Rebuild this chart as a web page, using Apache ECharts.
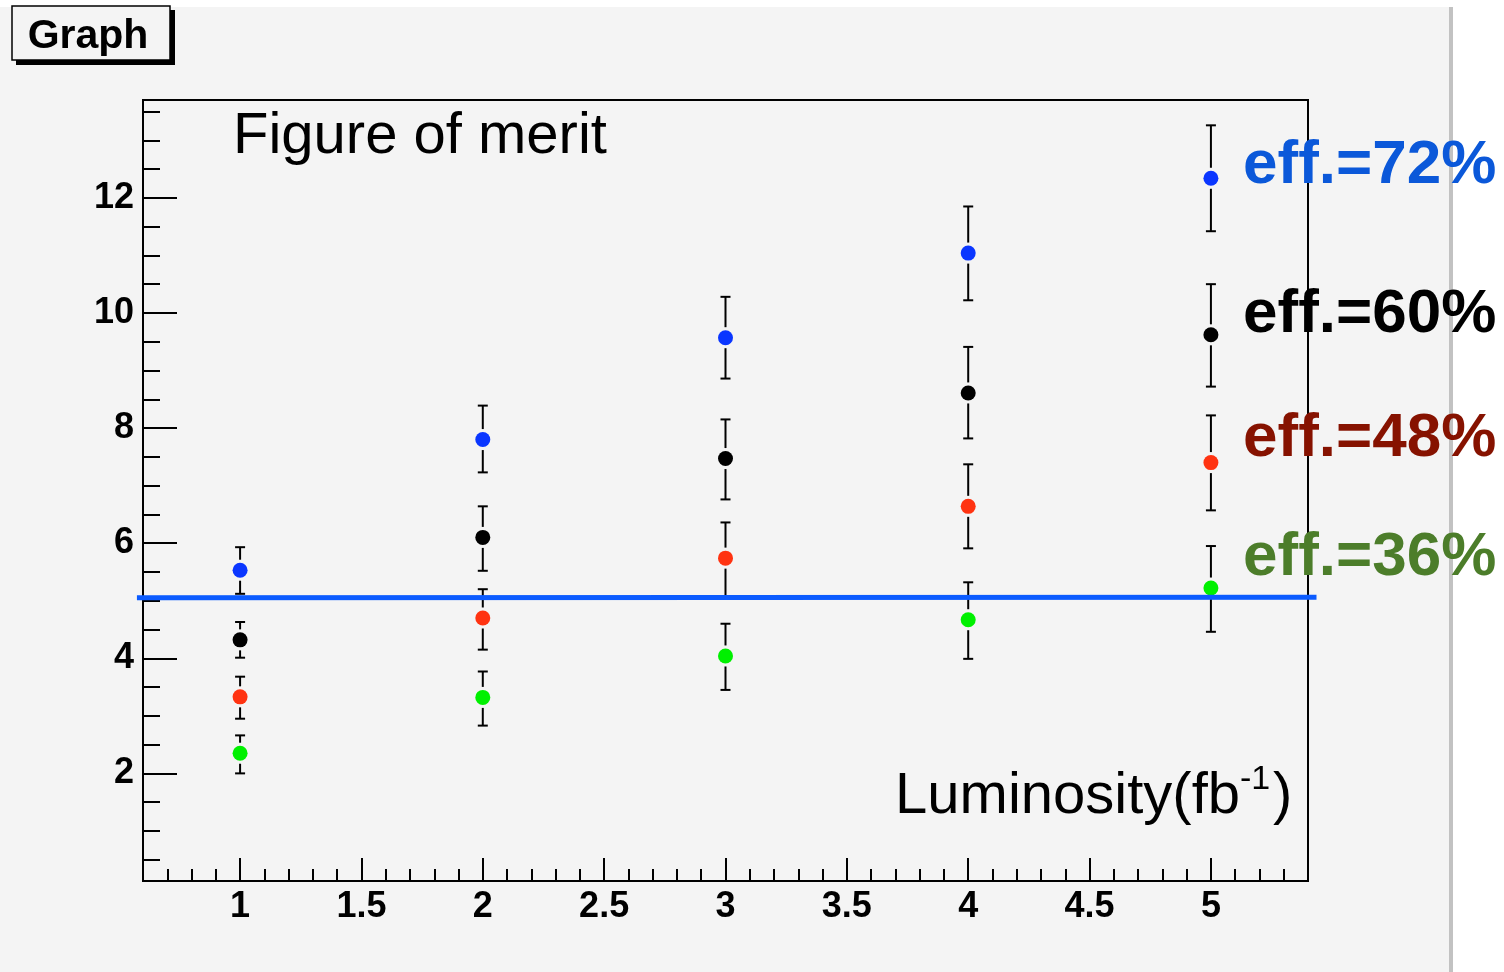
<!DOCTYPE html>
<html>
<head>
<meta charset="utf-8">
<script src="https://cdn.jsdelivr.net/npm/echarts@6/dist/echarts.min.js"></script>
<style>
html,body{margin:0;padding:0;background:#fff;}
#graph1{width:1504px;height:972px;}
</style>
</head>
<body>
<div id="graph1"></div>
<script>
// luminosity points (fb^-1)
var lumi=[1,2,3,4,5];

// figure of merit + error bar ends, one set per efficiency
var fom72=[5.53,7.80,9.57,11.04,12.34];
var lo72=[5.12,7.23,8.86,10.22,11.42];
var hi72=[5.93,8.39,10.28,11.85,13.26];

var fom60=[4.32,6.10,7.47,8.61,9.62];
var lo60=[4.01,5.52,6.76,7.82,8.72];
var hi60=[4.63,6.64,8.15,9.41,10.50];

var fom48=[3.33,4.70,5.74,6.64,7.40];
var lo48=[2.95,4.15,5.08,5.91,6.57];
var hi48=[3.68,5.20,6.36,7.37,8.22];

var fom36=[2.35,3.32,4.04,4.67,5.22];
var lo36=[2.00,2.83,3.45,3.99,4.46];
var hi36=[2.66,3.77,4.60,5.32,5.95];

// horizontal blue line
var cutX=[0.575,5.435];
var cutY=[5.05,5.06];

// ticks
var xMajor=[1,1.5,2,2.5,3,3.5,4,4.5,5];
var yMajor=[2,4,6,8,10,12];
var xMinor=[];
for(var i=7;i<=53;i++){ if(i%5!==0) xMinor.push(i/10); }
var yMinor=[];
for(var j=1;j<=27;j++){ if(j%4!==0) yMinor.push(j/2); }

var main=document.getElementById("graph1");
var myChart=echarts.init(main);

function pts(ys,los,his){
  var out=[];
  for(var k=0;k<lumi.length;k++) out.push([lumi[k],ys[k],los[k],his[k]]);
  return out;
}

function errRender(params,api){
  var x=api.value(0),y=api.value(1),lo=api.value(2),hi=api.value(3);
  var p=api.coord([x,y]),pl=api.coord([x,lo]),ph=api.coord([x,hi]);
  var gap=10.5,cap=5;
  var st={stroke:'#000',lineWidth:2};
  var ch=[];
  if(ph[1]<p[1]-gap) ch.push({type:'line',shape:{x1:p[0],y1:ph[1],x2:p[0],y2:p[1]-gap},style:st});
  if(pl[1]>p[1]+gap) ch.push({type:'line',shape:{x1:p[0],y1:p[1]+gap,x2:p[0],y2:pl[1]},style:st});
  ch.push({type:'line',shape:{x1:p[0]-cap,y1:ph[1],x2:p[0]+cap,y2:ph[1]},style:st});
  ch.push({type:'line',shape:{x1:p[0]-cap,y1:pl[1],x2:p[0]+cap,y2:pl[1]},style:st});
  return {type:'group',children:ch};
}

// the cut line, drawn as one segment between its two data points
function cutRender(params,api){
  if(params.dataIndex!==0) return;
  var a=api.coord([cutX[0],cutY[0]]),b=api.coord([cutX[1],cutY[1]]);
  return {type:'line',shape:{x1:a[0],y1:a[1],x2:b[0],y2:b[1]},
    style:{stroke:'#0b5bff',lineWidth:5,lineCap:'butt'}};
}

var sets=[
  {d:pts(fom72,lo72,hi72),c:'#0a36ff'},
  {d:pts(fom60,lo60,hi60),c:'#000000'},
  {d:pts(fom48,lo48,hi48),c:'#ff3311'},
  {d:pts(fom36,lo36,hi36),c:'#00f000'}
];

var series=[];
sets.forEach(function(s){
  series.push({type:'custom',renderItem:errRender,data:s.d,z:2,silent:true,clip:false});
  series.push({type:'scatter',data:s.d,symbol:'circle',symbolSize:15,
    itemStyle:{color:s.c,opacity:1},z:3,silent:true});
});
series.push({type:'custom',renderItem:cutRender,data:[[cutX[0],cutY[0]],[cutX[1],cutY[1]]],
  clip:false,z:4,silent:true});

var lblFont={fontFamily:'Liberation Sans',fontWeight:'bold',fontSize:36,color:'#000'};

var option={
  backgroundColor:'#f4f4f4',
  animation:false,
  grid:{left:143,top:100,right:196,bottom:91,show:true,borderColor:'#000',borderWidth:2,
    backgroundColor:'transparent',outerBoundsMode:'none'},
  xAxis:[
    {type:'value',min:0.6,max:5.4,
     axisLine:{show:true,onZero:false,lineStyle:{color:'#000',width:2}},
     axisTick:{show:true,inside:true,length:23,customValues:xMajor,lineStyle:{color:'#000',width:2}},
     axisLabel:Object.assign({customValues:xMajor,margin:8},lblFont),
     splitLine:{show:false}},
    {type:'value',min:0.6,max:5.4,position:'bottom',
     axisLine:{show:false},
     axisTick:{show:true,inside:true,length:12,customValues:xMinor,lineStyle:{color:'#000',width:2}},
     axisLabel:{show:false},splitLine:{show:false}}
  ],
  yAxis:[
    {type:'value',min:0.13,max:13.7,
     axisLine:{show:true,onZero:false,lineStyle:{color:'#000',width:2}},
     axisTick:{show:true,inside:true,length:34,customValues:yMajor,lineStyle:{color:'#000',width:2}},
     axisLabel:Object.assign({customValues:yMajor,margin:9},lblFont),
     splitLine:{show:false}},
    {type:'value',min:0.13,max:13.7,position:'left',
     axisLine:{show:false},
     axisTick:{show:true,inside:true,length:17,customValues:yMinor,lineStyle:{color:'#000',width:2}},
     axisLabel:{show:false},splitLine:{show:false}}
  ],
  graphic:[
    {type:'rect',shape:{x:0,y:0,width:1504,height:7},style:{fill:'#ffffff'},silent:true},
    {type:'rect',shape:{x:1453,y:0,width:51,height:972},style:{fill:'#ffffff'},silent:true},
    {type:'rect',shape:{x:1449,y:7,width:4,height:965},style:{fill:'#c2c2c2'},silent:true},
    {type:'rect',shape:{x:16,y:10,width:159,height:55},style:{fill:'#000'},silent:true},
    {type:'rect',shape:{x:12,y:6,width:158,height:54},style:{fill:'#f4f4f4',stroke:'#000',lineWidth:1.5},silent:true},
    {type:'text',x:88,y:37,style:{text:'Graph',font:'bold 41px "Liberation Sans"',fill:'#000',textAlign:'center',textVerticalAlign:'middle'}},
    {type:'text',x:233,y:137,style:{text:'Figure of merit',font:'58px "Liberation Sans"',fill:'#000',textAlign:'left',textVerticalAlign:'middle'}},
    {type:'text',x:1240,y:797,style:{text:'Luminosity(fb',font:'58px "Liberation Sans"',fill:'#000',textAlign:'right',textVerticalAlign:'middle'}},
    {type:'text',x:1240,y:780,style:{text:'-1',font:'34px "Liberation Sans"',fill:'#000',textAlign:'left',textVerticalAlign:'middle'}},
    {type:'text',x:1273,y:797,style:{text:')',font:'58px "Liberation Sans"',fill:'#000',textAlign:'left',textVerticalAlign:'middle'}},
    {type:'text',x:1243,y:166,style:{text:'eff.=72%',font:'bold 62px "Liberation Sans"',fill:'#0b58d9',textAlign:'left',textVerticalAlign:'middle'}},
    {type:'text',x:1243,y:315,style:{text:'eff.=60%',font:'bold 62px "Liberation Sans"',fill:'#000',textAlign:'left',textVerticalAlign:'middle'}},
    {type:'text',x:1243,y:439,style:{text:'eff.=48%',font:'bold 62px "Liberation Sans"',fill:'#861200',textAlign:'left',textVerticalAlign:'middle'}},
    {type:'text',x:1243,y:558,style:{text:'eff.=36%',font:'bold 62px "Liberation Sans"',fill:'#4c7d2a',textAlign:'left',textVerticalAlign:'middle'}}
  ],
  series:series
};

myChart.setOption(option);
</script>
</body>
</html>
